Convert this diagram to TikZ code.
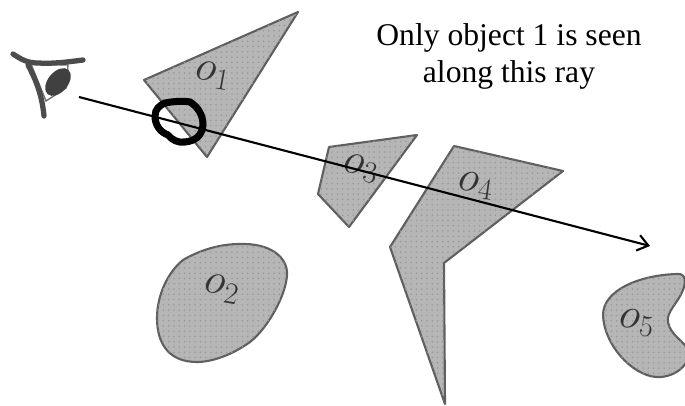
\documentclass[tikz,border=0pt]{standalone}
\usepackage{fontspec}
\setmainfont{Liberation Serif}
\usetikzlibrary{arrows.meta, patterns}
\definecolor{objgray}{RGB}{182,182,182}
\definecolor{edgegray}{RGB}{95,95,95}

\begin{document}
\begin{tikzpicture}[x=0.02cm, y=-0.02cm,
    obj/.style={draw=edgegray, line width=1.2pt, fill=objgray, line join=round,
                postaction={pattern=dots, pattern color=black!40}},
    lbl/.style={font=\fontsize{24}{24}\selectfont, text=black!80, inner sep=0pt},
    eyeline/.style={draw=black!70, line width=3pt, line cap=round},
    ray/.style={-{Straight Barb[length=6pt,width=9pt]}, line width=1.2pt},
    note/.style={font=\fontsize{18}{21}\selectfont, align=center}]

\clip (0,0) rectangle (685,405);

%% Objects
\path[obj] (144,80) -- (298,12) -- (207,157) -- cycle;
\path[obj] (329,147) -- (417,135) -- (349,227) -- (318,194) -- cycle;
\path[obj] (454,146) -- (563,171) -- (444,263) -- (445,404) -- (390,247) -- cycle;
\path[obj] (240,244) .. controls (270,243) and (288,257) .. (287,275)
    .. controls (286,295) and (268,328) .. (250,342)
    .. controls (232,355) and (212,362) .. (197,362)
    .. controls (170,362) and (157,345) .. (157,318)
    .. controls (157,295) and (168,272) .. (183,260)
    .. controls (200,250) and (220,244) .. (240,244) -- cycle;
\path[obj] (677,274) .. controls (686,273) and (686,282) .. (683,290)
    .. controls (678,303) and (666,312) .. (668,322)
    .. controls (670,335) and (685,342) .. (690,352)
    .. controls (688,368) and (672,378) .. (656,377)
    .. controls (632,375) and (604,345) .. (603,315)
    .. controls (603,290) and (640,275) .. (677,274) -- cycle;

%% Object labels
\node[lbl, rotate=-10] (oone) at (213,76) {$o_1$};
\node[lbl, rotate=-10] (otwo) at (222,289) {$o_2$};
\node[lbl, rotate=-10] (othree) at (361,169) {$o_3$};
\node[lbl, rotate=-8] (ofour) at (476,186) {$o_4$};
\node[lbl, rotate=-8] (ofive) at (637,323) {$o_5$};

%% Eye
\draw[fill=white, draw=black!55, line width=0.8pt] (31,64) -- (68,65) -- (66,88) -- (46,101) -- cycle;
\fill[black!75, rotate around={50:(58,82)}] (58,82) ellipse (16 and 10);
\draw[eyeline] (13,54) .. controls (22,60) and (28,63) .. (38,63) .. controls (52,64) and (68,62) .. (83,60);
\draw[eyeline] (28,65) .. controls (36,80) and (42,95) .. (44,116);

%% Ray
\coordinate (raystart) at (79,97);
\coordinate (rayend) at (650,246);
\draw[ray] (raystart) -- (rayend);

%% Hit marker
\draw[line width=4pt, line cap=round] (165,103) .. controls (175,101) and (185,101) .. (190,102)
    .. controls (198,107) and (203,115) .. (203,125)
    .. controls (202,136) and (195,141) .. (185,142)
    .. controls (178,143) and (172,140) .. (168,135)
    .. controls (160,132) and (155,125) .. (155,116)
    .. controls (155,109) and (160,105) .. (165,103) -- cycle;

%% Note
\node[note] (seenote) at (509,56) {Only object 1 is seen\\along this ray};

\end{tikzpicture}
\end{document}
